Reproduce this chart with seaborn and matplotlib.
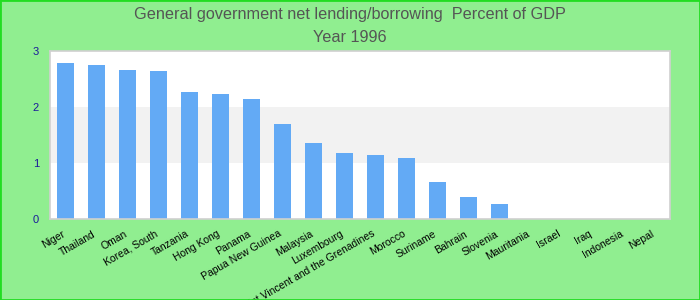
import matplotlib
matplotlib.use("Agg")
import matplotlib.pyplot as plt
import seaborn as sns
import pandas as pd
from matplotlib.patches import Rectangle
from matplotlib.transforms import ScaledTranslation

countries = ["Niger", "Thailand", "Oman", "Korea, South", "Tanzania", "Hong Kong",
             "Panama", "Papua New Guinea", "Malaysia", "Luxembourg",
             "Saint Vincent and the Grenadines", "Morocco", "Suriname", "Bahrain",
             "Slovenia", "Mauritania", "Israel", "Iraq", "Indonesia", "Nepal"]
values = [2.79, 2.75, 2.66, 2.64, 2.27, 2.23, 2.14, 1.70, 1.36, 1.18,
          1.14, 1.09, 0.66, 0.39, 0.27, 0, 0, 0, 0, 0]
yticks = [0, 1, 2, 3]

df = pd.DataFrame({"country": countries, "value": values})

sns.set_theme(style="white")
plt.rcParams['font.family'] = ['Liberation Sans', 'DejaVu Sans']

fig = plt.figure(figsize=(7, 3), dpi=100, facecolor="#90EE90")
ax = fig.add_axes([50/700, 1-219/300, 620/700, 168/300])
ax.set_facecolor("white")
ax.axhspan(1, 2, color="#f2f2f2", zorder=0, linewidth=0)

sns.barplot(data=df, x="country", y="value", color="#63aaf5", saturation=1,
            width=0.55, ax=ax, zorder=2, linewidth=0, edgecolor="none")

ax.set_ylim(0, 3)
ax.set_xlim(-0.5, len(countries) - 0.5)
ax.set_yticks(yticks)
ax.set_yticklabels([str(t) for t in yticks], color="#1a1a9a", fontsize=8)
ax.tick_params(axis="y", length=0, pad=8)
ax.tick_params(axis="x", length=0, pad=7)
shift = ScaledTranslation(-4/100, 0, fig.dpi_scale_trans)
for lab in ax.get_xticklabels():
    lab.set_rotation(30)
    lab.set_ha("right")
    lab.set_rotation_mode("anchor")
    lab.set_fontsize(7.5)
    lab.set_color("black")
    lab.set_transform(lab.get_transform() + shift)
ax.set_xlabel("")
ax.set_ylabel("")
for s in ax.spines.values():
    s.set_color("#d0d0d0")
    s.set_linewidth(1.2)

fig.text(0.5, 1-14/300, "General government net lending/borrowing  Percent of GDP",
         ha="center", va="center", fontsize=11.7, color="#555555")
fig.text(0.5, 1-37/300, "Year 1996", ha="center", va="center", fontsize=11.7, color="#555555")

fig.patches.append(Rectangle((0, 0), 1, 1, transform=fig.transFigure, fill=False,
                             edgecolor="#22dd22", linewidth=2, zorder=10))

fig.savefig("out.png", dpi=100, facecolor=fig.get_facecolor())
